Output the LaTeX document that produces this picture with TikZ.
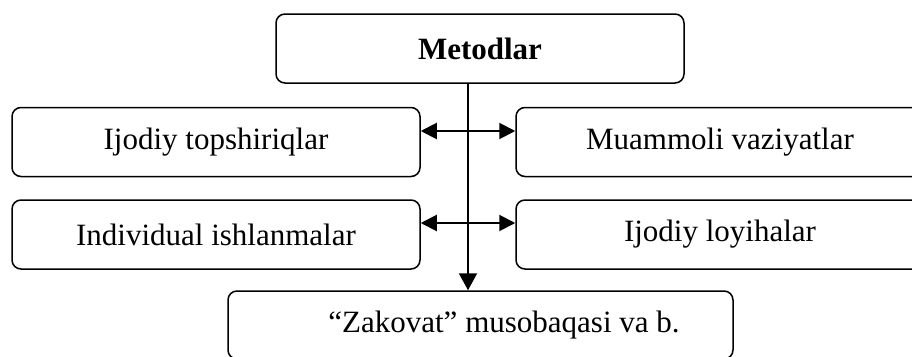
\documentclass[tikz,border=0pt]{standalone}
\usepackage{fontspec}
\setmainfont{Liberation Serif}
\usetikzlibrary{arrows.meta}
\tikzset{mytip/.tip={Triangle[length=16pt,width=16pt]}}
\begin{document}
\begin{tikzpicture}[x=1pt,y=-1pt,
  box/.style={draw,line width=1.5pt,rounded corners=9pt,minimum height=69pt,inner sep=0pt,
    font=\fontsize{31}{37}\selectfont},
  conn/.style={line width=2pt}]
\clip (0,0) rectangle (912,356);
\useasboundingbox (0,0) rectangle (912,356);
\node[box,minimum width=408pt] (m) at (480,48.5) {\textbf{Metodlar}};
\node[box,minimum width=408pt] (l1) at (216,142) {Ijodiy topshiriqlar};
\node[box,minimum width=408pt] (r1) at (720,142) {Muammoli vaziyatlar};
\node[box,minimum width=408pt] (l2) at (216,234.5) {Individual ishlanmalar};
\node[box,minimum width=408pt] (r2) at (720,234.5) {Ijodiy loyihalar};
\node[box,minimum width=505pt,minimum height=68pt] (b) at (480.5,325) {\hspace*{47pt}“Zakovat” musobaqasi va b.};
\draw[conn,-{Triangle[length=17pt,width=18pt]}] ([xshift=-12pt]m.south) -- ([xshift=-12.5pt]b.north);
\draw[conn,mytip-mytip] ([yshift=11pt]l1.east) -- ([yshift=11pt]r1.west);
\draw[conn,mytip-mytip] ([yshift=11.5pt]l2.east) -- ([yshift=11.5pt]r2.west);
\end{tikzpicture}
\end{document}
